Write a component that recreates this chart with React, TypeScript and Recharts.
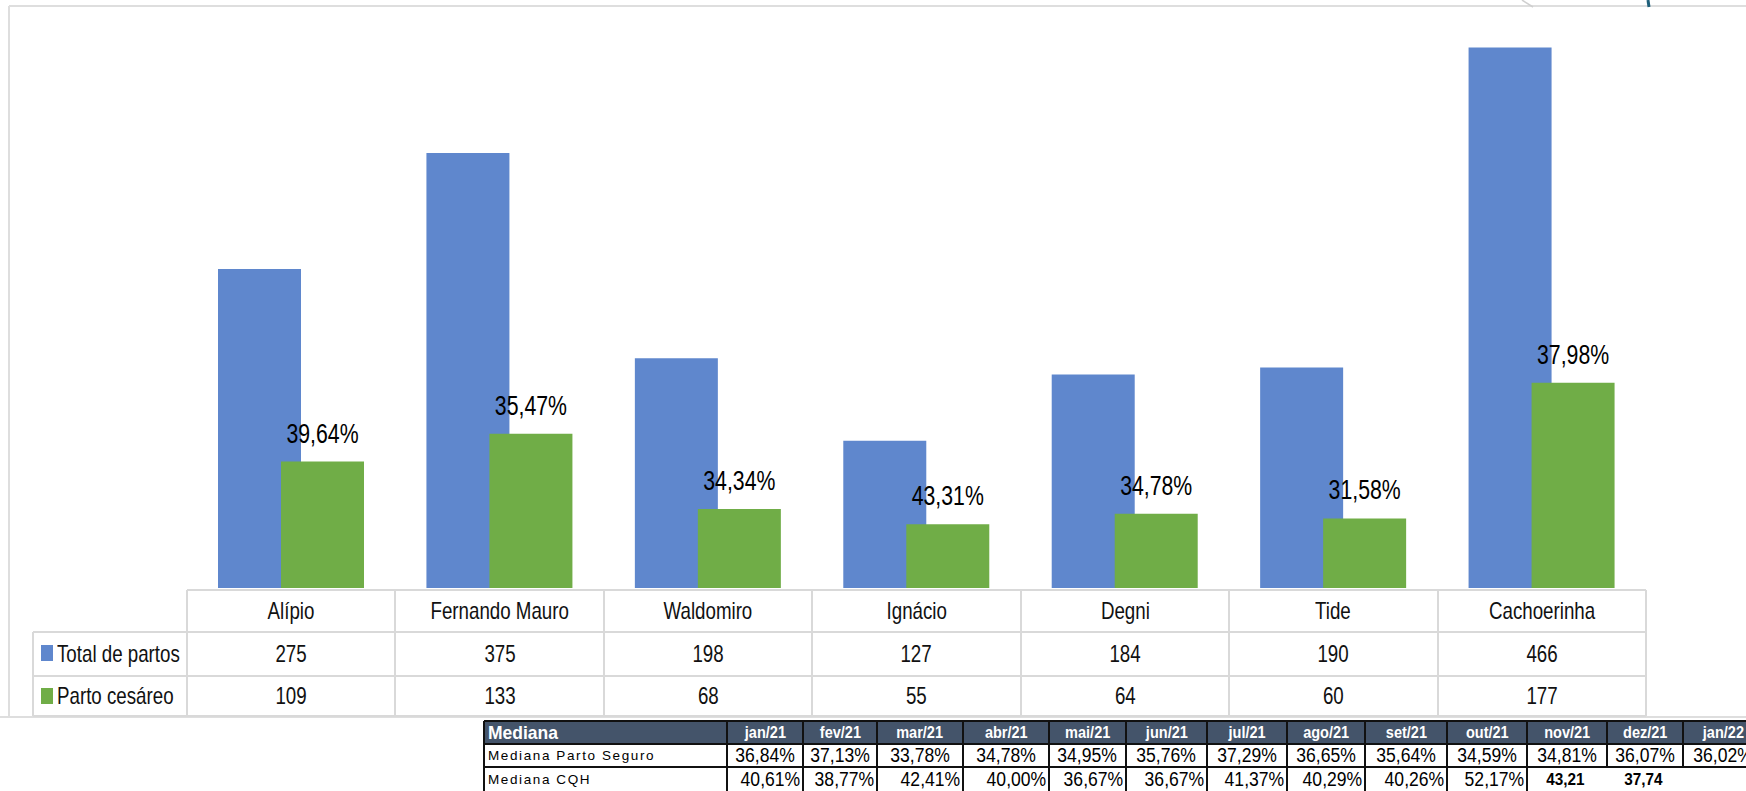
import React from 'react';
import { BarChart, Bar, XAxis, YAxis, LabelList } from 'recharts';

// chart data
const categories = ['Alípio', 'Fernando Mauro', 'Waldomiro', 'Ignácio', 'Degni', 'Tide', 'Cachoerinha'];
const totalPartos = [275, 375, 198, 127, 184, 190, 466];
const partoCesareo = [109, 133, 68, 55, 64, 60, 177];
const cesareoPct = ['39,64%', '35,47%', '34,34%', '43,31%', '34,78%', '31,58%', '37,98%'];

// "Mediana" table under the chart
const months = ['jan/21', 'fev/21', 'mar/21', 'abr/21', 'mai/21', 'jun/21', 'jul/21', 'ago/21', 'set/21', 'out/21', 'nov/21', 'dez/21', 'jan/22'];
const medianaPartoSeguro = ['36,84%', '37,13%', '33,78%', '34,78%', '34,95%', '35,76%', '37,29%', '36,65%', '35,64%', '34,59%', '34,81%', '36,07%', '36,02%'];
const medianaCQH = ['40,61%', '38,77%', '42,41%', '40,00%', '36,67%', '36,67%', '41,37%', '40,29%', '40,26%', '52,17%', '43,21', '37,74', ''];
const cqhBold = [false, false, false, false, false, false, false, false, false, false, true, true, false];

const W = 1746;
const H = 791;
const PLOT_LEFT = 187;
const PLOT_RIGHT = 1646;
const BLUE = '#5f87cd';
const GREEN = '#70ad47';
const GRID = '#d9d9d9';
const sans = '"Liberation Sans", Arial, sans-serif';
const NARROW = 0.78; // squeeze to imitate the narrow font of the original

const colW = (PLOT_RIGHT - PLOT_LEFT) / categories.length;
const monthColWidths = [76, 74, 86, 86, 77, 81, 80, 78, 82, 80, 80, 76, 80];

const hLine = (x1: number, x2: number, y: number, color = GRID, t = 2) => (
  <div key={`h${x1}-${y}`} style={{ position: 'absolute', left: x1, top: y - t / 2, width: x2 - x1, height: t, background: color }} />
);
const vLine = (x: number, y1: number, y2: number, color = GRID, t = 2) => (
  <div key={`v${x}-${y1}`} style={{ position: 'absolute', left: x - t / 2, top: y1, width: t, height: y2 - y1, background: color }} />
);

const cell = (key: string, left: number, top: number, width: number, height: number, text: string,
  style: React.CSSProperties = {}, squeeze = 1, origin = 'center') => (
  <div
    key={key}
    style={{
      position: 'absolute', left, top, width, height, display: 'flex', alignItems: 'center',
      justifyContent: 'center', whiteSpace: 'nowrap', ...style,
    }}
  >
    <span style={{ display: 'inline-block', transform: `scaleX(${squeeze})`, transformOrigin: origin }}>{text}</span>
  </div>
);

const renderPct = (props: any) => {
  const { x, y, width, value } = props;
  const cx = Number(x) + Number(width) / 2;
  const cy = Number(y) - 19;
  return (
    <text transform={`translate(${cx},${cy}) scale(0.76,1)`} textAnchor="middle" fontSize={28} fontFamily={sans} fill="#000">
      {value}
    </text>
  );
};

export default function App() {
  const chartData = categories.map((name, i) => ({
    name,
    total: totalPartos[i],
    cesareo: partoCesareo[i],
    pct: cesareoPct[i],
  }));

  const rowTops = [590, 632, 676, 716];
  const colEdges = categories.map((_, i) => PLOT_LEFT + i * colW);

  // bottom table columns
  const mLeft = 484;
  const mLabelRight = 727;
  const mEdges: number[] = [mLabelRight];
  monthColWidths.forEach(w => mEdges.push(mEdges[mEdges.length - 1] + w));
  const mRows = [721, 744, 767, 792];

  return (
    <div style={{ position: 'absolute', left: 0, top: 0, width: W, height: H, overflow: 'hidden', background: '#fff' }}>
      {/* chart frame */}
      {hLine(9, W, 6, '#dedede', 2)}
      {vLine(9, 6, 717, '#dedede', 2)}
      {hLine(0, W, 717, '#dedede', 2)}
      <svg style={{ position: 'absolute', left: 0, top: 0 }} width={W} height={12}>
        <line x1={1522} y1={0} x2={1533} y2={7} stroke="#cfcfcf" strokeWidth={1.5} />
        <line x1={1648} y1={0} x2={1649} y2={7} stroke="#1f5f7a" strokeWidth={3} />
      </svg>

      <div style={{ position: 'absolute', left: 0, top: 0 }}>
        <BarChart
          width={W}
          height={600}
          data={chartData}
          margin={{ top: 8, right: W - PLOT_RIGHT, bottom: 12, left: PLOT_LEFT }}
          barSize={83}
          barGap={-20}
        >
          <XAxis dataKey="name" hide />
          <YAxis hide domain={[0, 500]} />
          <Bar dataKey="total" fill={BLUE} isAnimationActive={false} />
          <Bar dataKey="cesareo" fill={GREEN} isAnimationActive={false}>
            <LabelList dataKey="pct" position="top" content={renderPct} />
          </Bar>
        </BarChart>
      </div>

      {/* data table */}
      <div style={{ position: 'absolute', left: 0, top: 0, fontFamily: sans, fontSize: 24, color: '#111' }}>
        {hLine(PLOT_LEFT, PLOT_RIGHT, rowTops[0])}
        {hLine(33, PLOT_RIGHT, rowTops[1])}
        {hLine(33, PLOT_RIGHT, rowTops[2])}
        {hLine(33, PLOT_RIGHT, rowTops[3])}
        {vLine(33, rowTops[1], rowTops[3])}
        {colEdges.map(x => vLine(x, rowTops[0], rowTops[3]))}
        {vLine(PLOT_RIGHT, rowTops[0], rowTops[3])}
        {categories.map((c, i) => cell(`c${i}`, colEdges[i], rowTops[0], colW, rowTops[1] - rowTops[0], c, {}, NARROW))}
        {totalPartos.map((v, i) => cell(`t${i}`, colEdges[i], rowTops[1], colW, rowTops[2] - rowTops[1], String(v), {}, NARROW))}
        {partoCesareo.map((v, i) => cell(`p${i}`, colEdges[i], rowTops[2], colW, rowTops[3] - rowTops[2], String(v), {}, NARROW))}
        <div style={{ position: 'absolute', left: 41, top: 645, width: 12, height: 16, background: BLUE }} />
        {cell('lt', 57, rowTops[1], 130, rowTops[2] - rowTops[1], 'Total de partos', { justifyContent: 'flex-start' }, NARROW, 'left center')}
        <div style={{ position: 'absolute', left: 41, top: 688, width: 12, height: 16, background: GREEN }} />
        {cell('lp', 57, rowTops[2], 130, rowTops[3] - rowTops[2], 'Parto cesáreo', { justifyContent: 'flex-start' }, NARROW, 'left center')}
      </div>

      {/* Mediana table */}
      <div style={{ position: 'absolute', left: 0, top: 0, fontFamily: sans, color: '#000' }}>
        <div style={{ position: 'absolute', left: mLeft, top: mRows[0] - 3, width: W - mLeft, height: H - mRows[0] + 3, background: '#fff' }} />
        <div style={{ position: 'absolute', left: mLeft, top: mRows[0], width: W - mLeft, height: mRows[1] - mRows[0], background: '#44546a' }} />
        {cell('mh', mLeft + 4, mRows[0], mLabelRight - mLeft, mRows[1] - mRows[0], 'Mediana', { justifyContent: 'flex-start', color: '#fff', fontWeight: 700, fontSize: 19 }, 0.92, 'left center')}
        {months.map((m, i) => cell(`mm${i}`, mEdges[i], mRows[0], monthColWidths[i], mRows[1] - mRows[0], m, { color: '#fff', fontWeight: 700, fontSize: 16.5 }, 0.88))}
        {cell('ml1', mLeft + 4, mRows[1], mLabelRight - mLeft, mRows[2] - mRows[1], 'Mediana Parto Seguro', { justifyContent: 'flex-start', fontSize: 13.5, letterSpacing: 1.6 }, 1, 'left center')}
        {cell('ml2', mLeft + 4, mRows[2], mLabelRight - mLeft, mRows[3] - mRows[2], 'Mediana CQH', { justifyContent: 'flex-start', fontSize: 13.5, letterSpacing: 1.6 }, 1, 'left center')}
        {medianaPartoSeguro.map((v, i) => cell(`ps${i}`, mEdges[i], mRows[1], monthColWidths[i], mRows[2] - mRows[1], v, { fontSize: 19.5 }, 0.9))}
        {medianaCQH.map((v, i) =>
          cell(`cq${i}`, mEdges[i], mRows[2], monthColWidths[i] - 3, mRows[3] - mRows[2], v,
            cqhBold[i] ? { fontSize: 17, fontWeight: 700 } : { fontSize: 19.5, justifyContent: 'flex-end' },
            0.9, cqhBold[i] ? 'center' : 'right center'))}
        {hLine(mLeft, W, mRows[0], '#111', 2.5)}
        {hLine(mLeft, W, mRows[1], '#111', 2)}
        {hLine(mLeft, W, mRows[2], '#111', 1.5)}
        {vLine(mLeft, mRows[0], H, '#111', 2.5)}
        {mEdges.map(x => vLine(x, mRows[0], x > mEdges[10] && x < mEdges[13] ? mRows[2] : H, '#111', 2))}
      </div>
    </div>
  );
}
